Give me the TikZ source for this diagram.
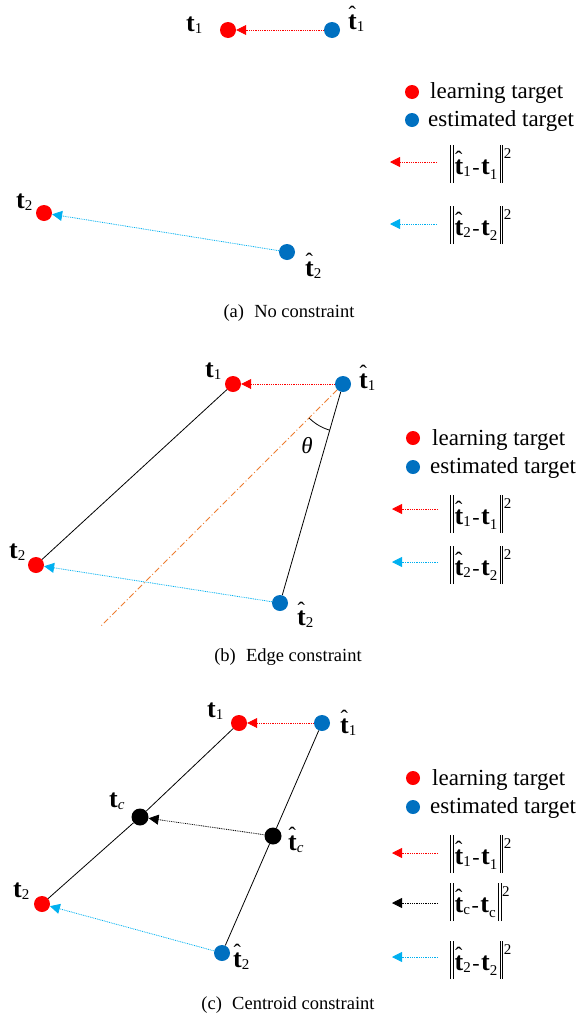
\documentclass[tikz,border=0pt]{standalone}
\usepackage{fontspec}
\setmainfont{Liberation Serif}
\usetikzlibrary{arrows.meta}
\definecolor{myred}{RGB}{255,0,0}
\definecolor{myblue}{RGB}{0,112,192}
\definecolor{lblue}{RGB}{0,176,240}
\definecolor{myorange}{RGB}{237,125,49}
\newcommand\tb[1]{{\fontsize{26}{26}\selectfont\bfseries t}\raisebox{-2pt}{\fontsize{15}{15}\selectfont #1}}
\newcommand\tbl[1]{{\fontsize{26}{26}\selectfont\bfseries t}\raisebox{-5pt}{\fontsize{15}{15}\selectfont #1}}
\newcommand\thb[1]{\makebox[0pt][l]{\raisebox{7.5pt}{\hspace{0.5pt}\fontsize{22}{22}\selectfont ˆ}}\tb{#1}}
\newcommand\dbar{\raisebox{-9pt}{\rule{0.6pt}{38pt}\hspace{1.8pt}\rule{0.6pt}{38pt}}}
\newcommand\fnorm[2]{\dbar\hspace{1.5pt}#1\hspace{1.5pt}{\fontsize{22}{22}\selectfont -}\hspace{1.5pt}#2\hspace{2.5pt}\dbar\hspace{1pt}\raisebox{16pt}{\fontsize{15}{15}\selectfont 2}}
\begin{document}
\begin{tikzpicture}[x=1pt,y=-1pt,
  dotr/.style={circle,fill=myred,inner sep=0,minimum size=16pt},
  dotb/.style={circle,fill=myblue,inner sep=0,minimum size=16pt},
  dotk/.style={circle,fill=black,inner sep=0,minimum size=17pt},
  ldotr/.style={circle,fill=myred,inner sep=0,minimum size=14pt},
  ldotb/.style={circle,fill=myblue,inner sep=0,minimum size=14pt},
  lab/.style={anchor=base west,inner sep=0},
  legtxt/.style={anchor=base west,inner sep=0,font=\fontsize{23}{23}\selectfont},
  formula/.style={anchor=west,inner sep=0},
  captxt/.style={font=\fontsize{18.5}{18.5}\selectfont,inner sep=0},
  err/.style={dash pattern=on 0.9pt off 0.9pt,line width=0.8pt,-{Triangle[length=10pt,width=10pt]}},
  segline/.style={line width=0.8pt,black}]
\useasboundingbox (0,0) rectangle (577,1023);

% ---------------- Panel (a)
\node[dotr] (ar1) at (228,30) {};
\node[dotb] (ab1) at (332,30) {};
\node[dotr] (ar2) at (44,213) {};
\node[dotb] (ab2) at (287,252) {};
\draw[err,myred] (ab1) -- (ar1);
\draw[err,lblue] (ab2) -- (ar2);
\node[lab] (lar1) at (186,31) {\tb{1}};
\node[lab] (lab1) at (348,29) {\thb{1}};
\node[lab] (lar2) at (16,208) {\tb{2}};
\node[lab] (lab2) at (305,276) {\thb{2}};
% legend a
\node[ldotr] (agr) at (412,92) {};
\node[legtxt] (agrt) at (430,98) {learning target};
\node[ldotb] (agb) at (412,120) {};
\node[legtxt] (agbt) at (428,126) {estimated target};
\coordinate (aa1s) at (437,162); \coordinate (aa1e) at (390,162);
\coordinate (aa2s) at (437,224); \coordinate (aa2e) at (390,224);
\draw[err,myred] (aa1s) -- (aa1e);
\draw[err,lblue] (aa2s) -- (aa2e);
\node[formula] (af1) at (450,164) {\fnorm{\thb{1}}{\tbl{1}}};
\node[formula] (af2) at (450,225) {\fnorm{\thb{2}}{\tbl{2}}};
\node[captxt] (capa) at (289,313) {(a)\hspace{0.55em}No constraint};

% ---------------- Panel (b)
\node[dotr] (br1) at (233,384) {};
\node[dotb] (bb1) at (343,384) {};
\node[dotr] (br2) at (36,565) {};
\node[dotb] (bb2) at (280,603) {};
\coordinate (oend) at (100,627);
\draw[segline] (br1) -- (br2);
\draw[segline] (bb1) -- (bb2);
\draw[myorange,line width=0.9pt,dash pattern=on 6pt off 2.5pt on 1pt off 2.5pt] (bb1) -- (oend);
\draw[line width=0.8pt] plot[domain=106:135,samples=25,smooth] ({343+48*cos(\x)},{384+48*sin(\x)});
\node[font=\fontsize{23}{23}\selectfont\itshape,inner sep=0] (theta) at (307,446) {θ};
\draw[err,myred] (bb1) -- (br1);
\draw[err,lblue] (bb2) -- (br2);
\node[lab] (lbr1) at (205,377) {\tb{1}};
\node[lab] (lbb1) at (359,388) {\thb{1}};
\node[lab] (lbr2) at (9,558) {\tb{2}};
\node[lab] (lbb2) at (297,625) {\thb{2}};
% legend b
\node[ldotr] (bgr) at (413,438) {};
\node[legtxt] (bgrt) at (432,445) {learning target};
\node[ldotb] (bgb) at (413,467) {};
\node[legtxt] (bgbt) at (430,473) {estimated target};
\coordinate (ba1s) at (438,509); \coordinate (ba1e) at (392,509);
\coordinate (ba2s) at (438,562); \coordinate (ba2e) at (392,562);
\draw[err,myred] (ba1s) -- (ba1e);
\draw[err,lblue] (ba2s) -- (ba2e);
\node[formula] (bf1) at (450,514) {\fnorm{\thb{1}}{\tbl{1}}};
\node[formula] (bf2) at (450,565) {\fnorm{\thb{2}}{\tbl{2}}};
\node[captxt] (capb) at (288,657) {(b)\hspace{0.55em}Edge constraint};

% ---------------- Panel (c)
\node[dotr] (cr1) at (239,723) {};
\node[dotb] (cb1) at (322,723) {};
\node[dotk] (crc) at (140,817) {};
\node[dotk] (cbc) at (273,836) {};
\node[dotr] (cr2) at (42,904) {};
\node[dotb] (cb2) at (222,953) {};
\draw[segline] (cr1) -- (crc) -- (cr2);
\draw[segline] (cb1) -- (cbc) -- (cb2);
\draw[err,myred] (cb1) -- (cr1);
\draw[err,black] (cbc) -- (crc);
\draw[err,lblue] (cb2) -- (cr2);
\node[lab] (lcr1) at (207,717) {\tb{1}};
\node[lab] (lcb1) at (340,733) {\thb{1}};
\node[lab] (lcrc) at (109,807) {\tb{\textit{c}}};
\node[lab] (lcbc) at (288,850) {\thb{\textit{c}}};
\node[lab] (lcr2) at (13,897) {\tb{2}};
\node[lab] (lcb2) at (233,967) {\thb{2}};
% legend c
\node[ldotr] (cgr) at (413,778) {};
\node[legtxt] (cgrt) at (432,785) {learning target};
\node[ldotb] (cgb) at (413,807) {};
\node[legtxt] (cgbt) at (430,813) {estimated target};
\coordinate (ca1s) at (438,853); \coordinate (ca1e) at (392,853);
\coordinate (cacs) at (438,903); \coordinate (cace) at (392,903);
\coordinate (ca2s) at (438,957); \coordinate (ca2e) at (392,957);
\draw[err,myred] (ca1s) -- (ca1e);
\draw[err,black] (cacs) -- (cace);
\draw[err,lblue] (ca2s) -- (ca2e);
\node[formula] (cf1) at (450,854) {\fnorm{\thb{1}}{\tbl{1}}};
\node[formula] (cfc) at (450,902) {\fnorm{\thb{c}}{\tbl{c}}};
\node[formula] (cf2) at (450,960) {\fnorm{\thb{2}}{\tbl{2}}};
\node[captxt] (capc) at (288,1005) {(c)\hspace{0.55em}Centroid constraint};
\end{tikzpicture}
\end{document}
